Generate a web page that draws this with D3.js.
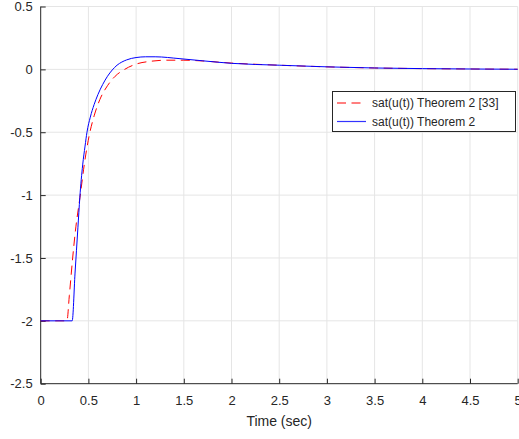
<!DOCTYPE html>
<html>
<head>
<meta charset="utf-8">
<script src="https://cdn.jsdelivr.net/npm/d3@7"></script>
<style>
  html, body { margin: 0; padding: 0; background: #fff; }
  svg { display: block; }
  text { font-family: "Liberation Sans", Arial, Helvetica, sans-serif; fill: #262626; }
</style>
</head>
<body>
<svg id="chart" width="519" height="439"></svg>
<script>
// Saturated control input over time for two controller designs
const timeRef = [0, 0.275, 0.30, 0.335, 0.363, 0.415, 0.46, 0.51, 0.56, 0.62, 0.70, 0.78, 0.88, 1.0, 1.15, 1.32, 1.5, 1.67, 2.0, 2.5, 3.0, 3.5, 4.0, 4.5, 5.0];
const satRef  = [-2, -2, -1.80, -1.50, -1.29, -1.00, -0.74, -0.52, -0.37, -0.24, -0.13, -0.055, 0.0, 0.042, 0.064, 0.073, 0.073, 0.068, 0.050, 0.033, 0.020, 0.011, 0.006, 0.003, 0.001];

const timeNew = [0, 0.33, 0.36, 0.39, 0.41, 0.44, 0.465, 0.485, 0.52, 0.56, 0.60, 0.65, 0.70, 0.75, 0.80, 0.85, 0.90, 0.95, 1.0, 1.1, 1.2, 1.46, 1.7, 2.0, 2.5, 3.0, 3.5, 4.0, 4.5, 5.0];
const satNew  = [-2, -2, -1.62, -1.26, -1.02, -0.76, -0.61, -0.50, -0.38, -0.28, -0.20, -0.12, -0.055, -0.005, 0.033, 0.058, 0.075, 0.087, 0.094, 0.100, 0.100, 0.085, 0.068, 0.048, 0.033, 0.020, 0.011, 0.006, 0.003, 0.001];

const xTicks = [0, 0.5, 1, 1.5, 2, 2.5, 3, 3.5, 4, 4.5, 5];
const yTicks = [0.5, 0, -0.5, -1, -1.5, -2, -2.5];
const seriesNames = ["sat(u(t)) Theorem 2 [33]", "sat(u(t)) Theorem 2"];
const xLabel = "Time (sec)";

const svg = d3.select("#chart");
const plotL = 40.7, plotR = 517.7, plotT = 6.5, plotB = 383.7;

const x = d3.scaleLinear().domain([0, 5]).range([plotL, plotR]);
const y = d3.scaleLinear().domain([-2.5, 0.5]).range([plotB, plotT]);

// tick labels with a plain hyphen for negatives
const fmt = d => String(d);

// grid
const grid = svg.append("g").attr("stroke", "#e5e5e5").attr("stroke-width", 1);
grid.selectAll("line.gx").data(xTicks.slice(1)).join("line")
  .attr("x1", d => x(d)).attr("x2", d => x(d))
  .attr("y1", plotT).attr("y2", plotB);
grid.selectAll("line.gy").data(yTicks.slice(0, -1)).join("line")
  .attr("x1", plotL).attr("x2", plotR)
  .attr("y1", d => y(d)).attr("y2", d => y(d));

// axes with inward ticks
const xAxis = d3.axisBottom(x).tickValues(xTicks).tickSize(-5).tickPadding(12).tickFormat(fmt);
const yAxis = d3.axisLeft(y).tickValues(yTicks).tickSize(-5).tickPadding(8).tickFormat(fmt);

const gx = svg.append("g").attr("transform", `translate(0,${plotB})`).call(xAxis);
const gy = svg.append("g").attr("transform", `translate(${plotL},0)`).call(yAxis);
[gx, gy].forEach(g => {
  g.select(".domain").attr("stroke", "#262626").attr("stroke-width", 1);
  g.selectAll(".tick line").attr("stroke", "#262626");
  g.selectAll(".tick text").attr("font-size", 13).attr("fill", "#262626")
    .attr("font-family", "Liberation Sans, Arial, sans-serif");
});
gx.select(".domain").attr("d", `M${plotL},0H${plotR}`);
gy.select(".domain").attr("d", `M0,${plotT}V${plotB}`);

svg.append("text")
  .attr("x", (plotL + plotR) / 2).attr("y", 426)
  .attr("text-anchor", "middle").attr("font-size", 14)
  .text(xLabel);

// curves
const line = d3.line().x(d => x(d[0])).y(d => y(d[1])).curve(d3.curveMonotoneX);
const refPts = timeRef.map((t, i) => [t, satRef[i]]);
const newPts = timeNew.map((t, i) => [t, satNew[i]]);

svg.append("path").datum(refPts)
  .attr("d", line).attr("fill", "none")
  .attr("stroke", "#ff0000").attr("stroke-width", 1)
  .attr("stroke-dasharray", "9,5.5");
svg.append("path").datum(newPts)
  .attr("d", line).attr("fill", "none")
  .attr("stroke", "#0000ff").attr("stroke-width", 1);

// legend
const lg = svg.append("g");
lg.append("rect")
  .attr("x", 332.5).attr("y", 91.5).attr("width", 183).attr("height", 40)
  .attr("fill", "#fff").attr("stroke", "#262626").attr("stroke-width", 1);
const styles = [
  { color: "#ff0000", dash: "9,5.5" },
  { color: "#3333ff", dash: "none" }
];
seriesNames.forEach((name, i) => {
  const yy = 103 + i * 18.5;
  lg.append("line")
    .attr("x1", 337).attr("x2", 366).attr("y1", yy).attr("y2", yy)
    .attr("stroke", styles[i].color).attr("stroke-width", 1.2)
    .attr("stroke-dasharray", styles[i].dash);
  lg.append("text")
    .attr("x", 372).attr("y", Math.round(yy) + 4)
    .attr("font-size", 12).text(name);
});
</script>
</body>
</html>
